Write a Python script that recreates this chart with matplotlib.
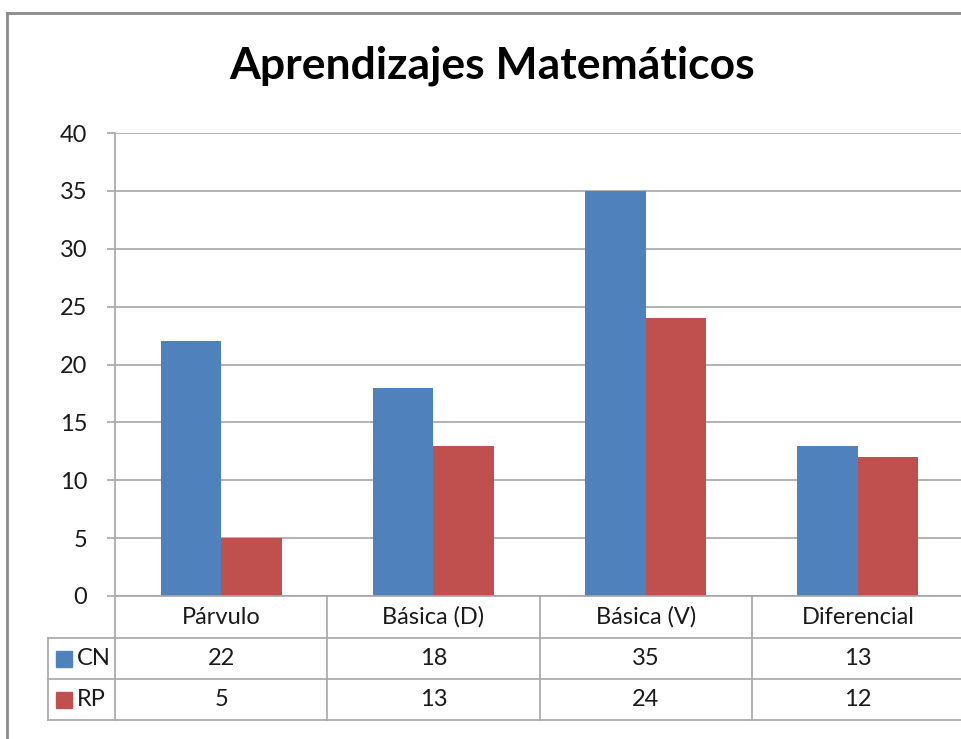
import matplotlib
matplotlib.use("Agg")
import matplotlib.pyplot as plt
from matplotlib.lines import Line2D
from matplotlib.patches import Rectangle

categories = ["Párvulo", "Básica (D)", "Básica (V)", "Diferencial"]
series_names = ["CN", "RP"]
cn_values = [22, 18, 35, 13]
rp_values = [5, 13, 24, 12]
y_ticks = [0, 5, 10, 15, 20, 25, 30, 35, 40]

colors = ["#4F81BD", "#C0504D"]
grid_color = "#A6A6A6"
text_color = "#1A1A1A"
FONT = "Lato"

W, H = 961, 739
fig = plt.figure(figsize=(W / 100, H / 100), dpi=100)

def fx(px):
    return px / W

def fy(py):
    return 1 - py / H

ax_left, ax_right, ax_top, ax_bottom = 115, 964, 133, 596
ax = fig.add_axes([fx(ax_left), fy(ax_bottom), fx(ax_right - ax_left), (ax_bottom - ax_top) / H])
ax.set_xlim(-0.5, len(categories) - 0.5)
ax.set_ylim(0, 40)

bw = 0.285
xs = list(range(len(categories)))
ax.bar([x - bw / 2 for x in xs], cn_values, width=bw, color=colors[0], zorder=3)
ax.bar([x + bw / 2 for x in xs], rp_values, width=bw, color=colors[1], zorder=3)

ax.set_yticks(y_ticks)
ax.yaxis.grid(True, color=grid_color, linewidth=1.2, zorder=0)
ax.set_xticks([])
for s in ["top", "right", "bottom"]:
    ax.spines[s].set_visible(False)
ax.spines["left"].set_color(grid_color)
ax.spines["left"].set_linewidth(1.2)
ax.tick_params(axis="y", length=6, width=1.2, color=grid_color, labelsize=17,
               labelcolor=text_color, pad=14)
for lab in ax.get_yticklabels():
    lab.set_fontfamily(FONT)

# Title
fig.text(fx(492), fy(66), "Aprendizajes Matemáticos", ha="center", va="center",
         fontsize=32, fontweight="bold", family=FONT, color="#000000")

# Outer chart border
fig.add_artist(Line2D([fx(7), fx(7)], [fy(13), fy(739)], color="#8C8C8C", lw=2))
fig.add_artist(Line2D([fx(7), fx(961)], [fy(13), fy(13)], color="#8C8C8C", lw=2))

# Data table
cat_w = (ax_right - ax_left) / len(categories)
rows_y = [596, 638, 679, 720]
lc = grid_color
lw = 1.2
fig.add_artist(Line2D([fx(ax_left), fx(W)], [fy(rows_y[0])] * 2, color=lc, lw=lw))
for ry in rows_y[1:]:
    fig.add_artist(Line2D([fx(48), fx(W)], [fy(ry)] * 2, color=lc, lw=lw))
fig.add_artist(Line2D([fx(48)] * 2, [fy(rows_y[1]), fy(rows_y[3])], color=lc, lw=lw))
for i in range(len(categories) + 1):
    xpix = ax_left + i * cat_w
    fig.add_artist(Line2D([fx(xpix)] * 2, [fy(rows_y[0]), fy(rows_y[3])], color=lc, lw=lw))

txt_kw = dict(ha="center", va="center", fontsize=17, family=FONT, color=text_color)
for i, cat in enumerate(categories):
    cx = ax_left + (i + 0.5) * cat_w
    fig.text(fx(cx), fy((rows_y[0] + rows_y[1]) / 2), cat, **txt_kw)
    fig.text(fx(cx), fy((rows_y[1] + rows_y[2]) / 2), str(cn_values[i]), **txt_kw)
    fig.text(fx(cx), fy((rows_y[2] + rows_y[3]) / 2), str(rp_values[i]), **txt_kw)

for r, (name, col) in enumerate(zip(series_names, colors)):
    cy = (rows_y[r + 1] + rows_y[r + 2]) / 2
    fig.add_artist(Rectangle((fx(56), fy(cy + 8)), fx(16), 16 / H, color=col,
                             transform=fig.transFigure))
    fig.text(fx(77), fy(cy), name, ha="left", va="center", fontsize=17,
             family=FONT, color=text_color)

fig.savefig("out.png", dpi=100)
